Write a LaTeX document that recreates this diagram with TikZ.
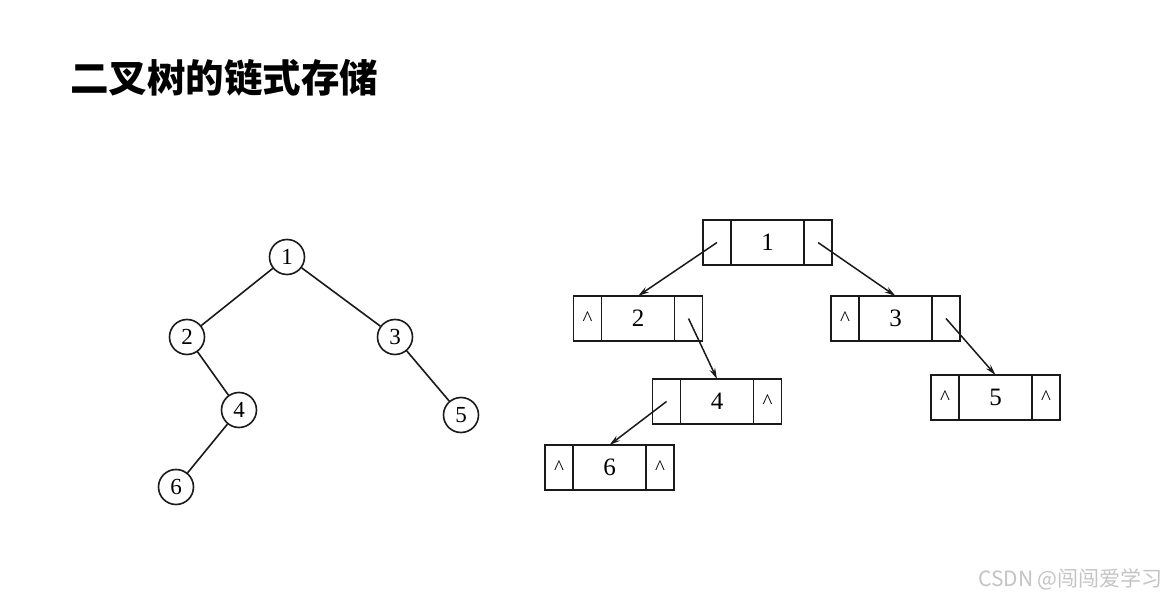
\documentclass[tikz,border=0pt]{standalone}
\usepackage{fontspec}
\setmainfont{Liberation Serif}
\newfontfamily\cjk{Noto Sans CJK SC}
\usepackage{tikz}
\usetikzlibrary{arrows.meta,positioning}
\definecolor{TreeInk}{HTML}{1A1A1A}
\definecolor{MarkGray}{HTML}{C4C4C4}
\newcommand{\nilptr}{\textasciicircum}
\tikzset{
  treenode/.style={draw=TreeInk,circle,line width=1.6pt,minimum size=35pt,inner sep=0pt,font=\fontsize{23}{23}\selectfont},
  treeedge/.style={line width=1.6pt,draw=TreeInk},
  datacell/.style={draw=TreeInk,line width=1.6pt,minimum width=73pt,minimum height=45pt,inner sep=0pt,outer sep=0pt,font=\fontsize{25}{25}\selectfont},
  ptrcell/.style={draw=TreeInk,line width=1.6pt,minimum width=28pt,minimum height=45pt,inner sep=0pt,outer sep=0pt,font=\fontsize{21}{21}\selectfont},
  ptrarrow/.style={-{Stealth[length=11pt,width=6pt]},line width=1.5pt,draw=TreeInk}
}

\begin{document}
\begin{tikzpicture}[x=1pt,y=-1pt]
\path[fill=white] (0,0) rectangle (1167,601);
\node[anchor=west,inner sep=0pt,font=\cjk\bfseries\fontsize{38.5}{38.5}\selectfont] (title) at (70,78) {二叉树的链式存储};
% binary tree
\node[treenode] (t1) at (287,257) {1};
\node[treenode] (t2) at (187,337) {2};
\node[treenode] (t3) at (395,337) {3};
\node[treenode] (t4) at (239,410) {4};
\node[treenode] (t5) at (461,415) {5};
\node[treenode] (t6) at (176,487) {6};
\draw[treeedge] (t1)--(t2);
\draw[treeedge] (t1)--(t3);
\draw[treeedge] (t2)--(t4);
\draw[treeedge] (t3)--(t5);
\draw[treeedge] (t4)--(t6);
% linked storage
\foreach \nm/\x/\y/\lf/\rt in {1/767.5/242.5/{}/{},2/638/318.5/\nilptr/{},3/895.5/318.5/\nilptr/{},4/717/401.5/{}/\nilptr,5/995.5/397.5/\nilptr/\nilptr,6/609.5/467.5/\nilptr/\nilptr}{
  \node[datacell] (n\nm) at (\x,\y) {\nm};
  \node[ptrcell,left=0pt of n\nm] (n\nm-l) {\lf};
  \node[ptrcell,right=0pt of n\nm] (n\nm-r) {\rt};
}
\draw[ptrarrow] (n1-l.center)--(n2.north);
\draw[ptrarrow] (n1-r.center)--(n3.north);
\draw[ptrarrow] (n2-r.center)--(n4.north);
\draw[ptrarrow] (n3-r.center)--(n5.north);
\draw[ptrarrow] (n4-l.center)--(n6.north);
\node[anchor=east,inner sep=0pt,text=MarkGray,font=\cjk\fontsize{21}{21}\selectfont] (mark) at (1163,579) {CSDN @闯闯爱学习};
\end{tikzpicture}
\end{document}
